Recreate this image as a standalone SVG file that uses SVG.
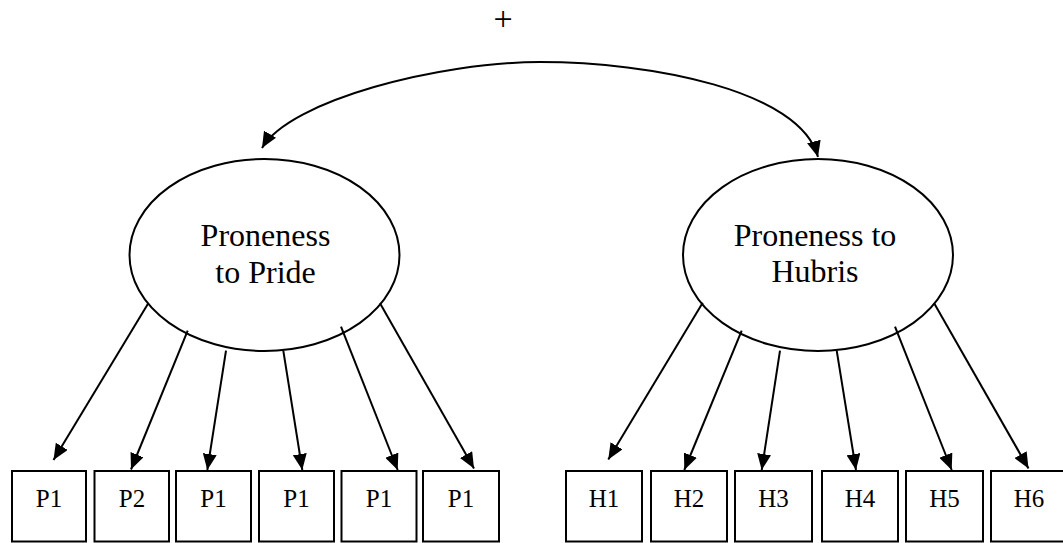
<svg xmlns="http://www.w3.org/2000/svg" width="1063" height="543" viewBox="0 0 1063 543">
  <style>
    .shape { fill: #ffffff; stroke: #000000; stroke-width: 2; }
    .lbl { font-family: "Liberation Serif", "Times New Roman", serif; fill: #000000; text-anchor: middle; }
    .big { font-size: 32px; }
    .small { font-size: 25px; }
    .sign { font-size: 34px; }
    .conn { fill: none; stroke: #000000; stroke-width: 2; }
  </style>
  <defs>
    <marker id="ah" viewBox="0 0 16 14" refX="16" refY="7" markerWidth="16" markerHeight="14" markerUnits="userSpaceOnUse" orient="auto-start-reverse">
      <path d="M0,0 L16,7 L0,14 z" fill="#000000"/>
    </marker>
  </defs>
  <rect width="1063" height="543" fill="#ffffff"/>

  <!-- covariance sign -->
  <text class="lbl sign" x="503" y="30">+</text>

  <!-- latent factors -->
  <g id="pride">
    <ellipse class="shape" cx="264.5" cy="255" rx="135" ry="96"/>
    <text class="lbl big" x="265.5" y="246">Proneness</text>
    <text class="lbl big" x="265.5" y="282.5">to Pride</text>
  </g>
  <g id="hubris">
    <ellipse class="shape" cx="818" cy="255" rx="135" ry="96"/>
    <text class="lbl big" x="815" y="246">Proneness to</text>
    <text class="lbl big" x="815" y="282">Hubris</text>
  </g>

  <!-- pride indicators -->
  <g id="p_item1"><rect class="shape" x="12" y="471" width="74" height="70.5"/><text class="lbl small" x="49" y="507">P1</text></g>
  <g id="p_item2"><rect class="shape" x="94.5" y="471" width="74.5" height="70.5"/><text class="lbl small" x="132" y="507">P2</text></g>
  <g id="p_item3"><rect class="shape" x="176" y="471" width="75" height="70.5"/><text class="lbl small" x="213.5" y="507">P1</text></g>
  <g id="p_item4"><rect class="shape" x="259" y="471" width="75" height="70.5"/><text class="lbl small" x="296.5" y="507">P1</text></g>
  <g id="p_item5"><rect class="shape" x="341.5" y="471" width="75" height="70.5"/><text class="lbl small" x="379" y="507">P1</text></g>
  <g id="p_item6"><rect class="shape" x="423" y="471" width="76" height="70.5"/><text class="lbl small" x="461" y="507">P1</text></g>

  <!-- hubris indicators -->
  <g id="h_item1"><rect class="shape" x="566" y="471" width="76" height="70.5"/><text class="lbl small" x="604" y="507">H1</text></g>
  <g id="h_item2"><rect class="shape" x="651" y="471" width="76" height="70.5"/><text class="lbl small" x="689" y="507">H2</text></g>
  <g id="h_item3"><rect class="shape" x="735" y="471" width="77" height="70.5"/><text class="lbl small" x="773.5" y="507">H3</text></g>
  <g id="h_item4"><rect class="shape" x="822" y="471" width="76" height="70.5"/><text class="lbl small" x="860" y="507">H4</text></g>
  <g id="h_item5"><rect class="shape" x="906" y="471" width="77" height="70.5"/><text class="lbl small" x="944.5" y="507">H5</text></g>
  <g id="h_item6"><rect class="shape" x="991" y="471" width="76" height="70.5"/><text class="lbl small" x="1029" y="507">H6</text></g>

  <!-- connectors -->
  <g id="connectors">
    <path class="conn" d="M262,148 C290,100 440,62 540,62 C650,62 800,90 818,157" marker-start="url(#ah)" marker-end="url(#ah)"/>

    <line class="conn" x1="148.3" y1="303.3" x2="53.5" y2="460" marker-end="url(#ah)"/>
    <line class="conn" x1="187.7" y1="330.7" x2="131" y2="469.5" marker-end="url(#ah)"/>
    <line class="conn" x1="226" y1="350.7" x2="207.3" y2="470" marker-end="url(#ah)"/>
    <line class="conn" x1="283.3" y1="350.7" x2="302.3" y2="470" marker-end="url(#ah)"/>
    <line class="conn" x1="341" y1="326.7" x2="397.7" y2="470" marker-end="url(#ah)"/>
    <line class="conn" x1="380" y1="303.3" x2="474" y2="468.5" marker-end="url(#ah)"/>

    <line class="conn" x1="702.7" y1="302.7" x2="608.3" y2="459.5" marker-end="url(#ah)"/>
    <line class="conn" x1="741.7" y1="330.7" x2="684.3" y2="470" marker-end="url(#ah)"/>
    <line class="conn" x1="780" y1="350.7" x2="761.7" y2="470" marker-end="url(#ah)"/>
    <line class="conn" x1="836.7" y1="350.7" x2="856" y2="470" marker-end="url(#ah)"/>
    <line class="conn" x1="895" y1="326.7" x2="951.7" y2="470" marker-end="url(#ah)"/>
    <line class="conn" x1="934" y1="303" x2="1028.5" y2="468.5" marker-end="url(#ah)"/>
  </g>
</svg>
